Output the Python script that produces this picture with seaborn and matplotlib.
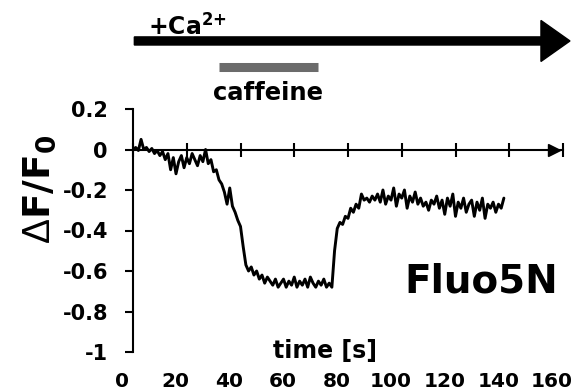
import numpy as np
import pandas as pd
import matplotlib
matplotlib.use("Agg")
import matplotlib.pyplot as plt
import seaborn as sns
from matplotlib.patches import FancyArrow

# ---------------- data ----------------
time_s = np.arange(0, 139)  # 1 s sampling
dff = [
    0.0, 0.01, -0.005, 0.05, 0.0, 0.01, -0.01, 0.005, -0.02, -0.005,
    -0.03, -0.01, -0.05, -0.02, -0.1, -0.04, -0.12, -0.06, -0.03, -0.09,
    -0.04, -0.07, -0.02, -0.05, -0.08, -0.03, -0.06, 0.0, -0.07, -0.05,
    -0.11, -0.1, -0.15, -0.17, -0.21, -0.27, -0.19, -0.28, -0.31, -0.35,
    -0.38, -0.48, -0.57, -0.6, -0.58, -0.62, -0.6, -0.64, -0.62, -0.66,
    -0.63, -0.65, -0.67, -0.64, -0.68, -0.66, -0.64, -0.68, -0.65, -0.67,
    -0.63, -0.68, -0.65, -0.67, -0.64, -0.68, -0.63, -0.66, -0.68, -0.65,
    -0.67, -0.64, -0.68, -0.66, -0.68, -0.5, -0.39, -0.36, -0.37, -0.33,
    -0.34, -0.29, -0.31, -0.27, -0.29, -0.22, -0.25, -0.24, -0.26, -0.23,
    -0.25, -0.22, -0.26, -0.2, -0.27, -0.23, -0.25, -0.19, -0.28, -0.22,
    -0.24, -0.2, -0.29, -0.23, -0.26, -0.21, -0.27, -0.24, -0.28, -0.26,
    -0.3, -0.25, -0.27, -0.23, -0.29, -0.25, -0.32, -0.24, -0.28, -0.22,
    -0.33, -0.26, -0.29, -0.24, -0.31, -0.27, -0.25, -0.33, -0.26, -0.3,
    -0.24, -0.34, -0.27, -0.29, -0.26, -0.31, -0.27, -0.29, -0.24,
]
caffeine_window = [32.0, 68.8]
x_ticks = [0, 20, 40, 60, 80, 100, 120, 140, 160]
x_labels = ["0", "20", "40", "60", "80", "100", "120", "140", "160"]
y_ticks = [0.2, 0.0, -0.2, -0.4, -0.6, -0.8, -1.0]
y_labels = ["0.2", "0", "-0.2", "-0.4", "-0.6", "-0.8", "-1"]

df = pd.DataFrame({"time": time_s, "dff": dff})

# ---------------- style ----------------
sns.set_style("white")
plt.rcParams["font.family"] = ["DejaVu Sans"]
plt.rcParams["axes.unicode_minus"] = False
plt.rcParams["mathtext.fontset"] = "custom"
plt.rcParams["mathtext.rm"] = "Liberation Sans"
plt.rcParams["mathtext.it"] = "Liberation Sans:italic"
plt.rcParams["mathtext.bf"] = "DejaVu Sans:bold"
plt.rcParams["text.color"] = "black"
plt.rcParams["xtick.color"] = "black"
plt.rcParams["ytick.color"] = "black"
plt.rcParams["axes.labelcolor"] = "black"

fig = plt.figure(figsize=(5.74, 3.92), dpi=100)

# axis carrying the bottom tick labels (shifted left as in the original)
ax_lab = fig.add_axes([122 / 574, 40 / 392, 430 / 574, 243 / 392], frameon=False)
ax_lab.set_xlim(0, 160)
ax_lab.set_xticks(x_ticks)
ax_lab.set_xticklabels(x_labels, fontweight="bold")
ax_lab.tick_params(axis="x", bottom=True, length=0, pad=14.4, labelsize=14.5)
ax_lab.set_yticks([])
ax_lab.patch.set_alpha(0)

ax = fig.add_axes([133 / 574, 40 / 392, 430 / 574, 243 / 392])
ax.patch.set_alpha(0)

sns.lineplot(data=df, x="time", y="dff", ax=ax, color="black", lw=2.1, legend=False)

ax.set_xlim(0, 160)
ax.set_ylim(-1, 0.2)
ax.set_xlabel("")
ax.set_ylabel("")

for s in ["top", "right"]:
    ax.spines[s].set_visible(False)
ax.spines["bottom"].set_position(("data", 0))
for s in ["bottom", "left"]:
    ax.spines[s].set_linewidth(1.5)
    ax.spines[s].set_color("black")

ax.set_xticks(x_ticks)
ax.tick_params(axis="x", bottom=True, direction="inout", length=9.5, width=1.5,
               labelbottom=False, color="black")
ax.set_yticks(y_ticks)
ax.set_yticklabels(y_labels, fontweight="bold")
ax.tick_params(axis="y", left=True, direction="out", length=6, width=1.5, pad=12,
               labelsize=15, color="black")

# small arrowhead at the end of the time axis
ax.plot(0.979, 0, marker=">", ms=8, color="black",
        transform=ax.get_yaxis_transform(), clip_on=False)

# big arrow (+Ca2+)
ax.add_patch(FancyArrow(0.5, 0.536, 162.1, 0, width=0.04, head_width=0.2025,
                        head_length=10.8, length_includes_head=True,
                        color="black", clip_on=False))
ax.text(5.6, 0.565, r"+Ca$^{\mathbf{2{+}}}$", fontsize=17, fontweight="bold",
        ha="left", va="baseline", clip_on=False)

# caffeine bar
ax.plot(caffeine_window, [0.407, 0.407], color="#6b6b6b", lw=6.5,
        solid_capstyle="butt", clip_on=False)
ax.text(np.mean(caffeine_window), 0.244, "caffeine", fontsize=17.5,
        fontweight="bold", ha="center", va="baseline", clip_on=False)

ax.text(101, -0.704, "Fluo5N", fontsize=28, fontweight="bold",
        ha="left", va="baseline")
ax.text(71.3, -1.03, "time [s]", fontsize=17, fontweight="bold",
        ha="center", va="baseline", clip_on=False)

fig.text(40 / 574, 1 - 189 / 392, r"$\mathrm{\Delta}\mathbf{F/F_0}$", rotation=90,
         ha="center", va="center", fontsize=27)

fig.savefig("out.png", dpi=100)
